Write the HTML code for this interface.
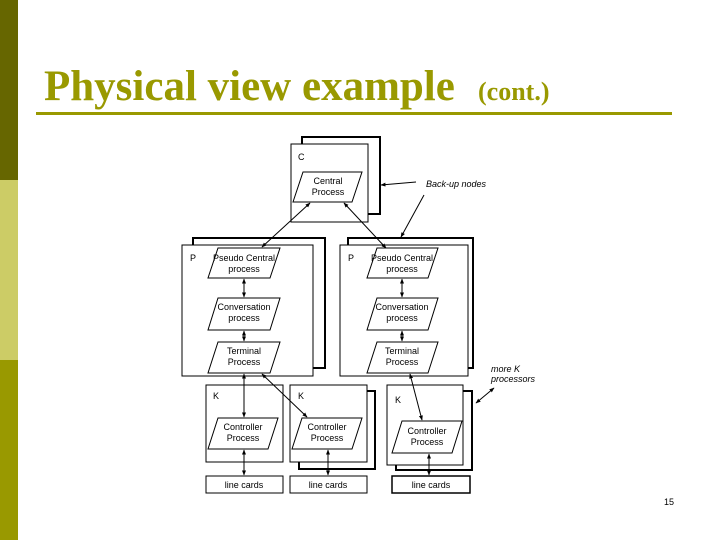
<!DOCTYPE html>
<html><head><meta charset="utf-8"><style>
body{margin:0;width:720px;height:540px;background:#fff;position:relative;overflow:hidden}
</style></head><body>
<svg width="720" height="540" viewBox="0 0 720 540" xmlns="http://www.w3.org/2000/svg" style="position:absolute;left:0;top:0">
<defs>
<marker id="a" viewBox="0 0 10 10" refX="9" refY="5" markerWidth="5" markerHeight="5" orient="auto-start-reverse"><path d="M0,1 L10,5 L0,9 z" fill="#000"/></marker>
</defs>
<rect x="0" y="0" width="18" height="180" fill="#666600"/>
<rect x="0" y="180" width="18" height="180" fill="#cccc66"/>
<rect x="0" y="360" width="18" height="180" fill="#999900"/>
<text x="44" y="100" font-family="Liberation Serif" font-weight="bold" font-size="43" fill="#999900">Physical view example</text>
<text x="478" y="100" font-family="Liberation Serif" font-weight="bold" font-size="26" fill="#999900">(cont.)</text>
<rect x="36" y="112" width="636" height="3" fill="#999900"/>
<g fill="#fff" stroke="#000" stroke-width="1">
<rect x="302" y="137" width="78" height="77" stroke-width="2"/>
<rect x="291" y="144" width="77" height="78"/>
<rect x="193" y="238" width="132" height="130" stroke-width="2"/>
<rect x="182" y="245" width="131" height="131"/>
<rect x="348" y="238" width="125" height="130" stroke-width="2"/>
<rect x="340" y="245" width="128" height="131"/>
<rect x="206" y="385" width="77" height="77"/>
<rect x="299" y="391" width="76" height="78" stroke-width="2"/>
<rect x="290" y="385" width="77" height="77"/>
<rect x="396" y="391" width="76" height="79" stroke-width="2"/>
<rect x="387" y="385" width="76" height="80"/>
<rect x="206" y="476" width="77" height="17"/>
<rect x="290" y="476" width="77" height="17"/>
<rect x="392" y="476" width="78" height="17" stroke-width="1.5"/>
<polygon points="303,172 362,172 352,202 293,202"/>
<polygon points="218,248 280,248 270,278 208,278"/>
<polygon points="218,298 280,298 270,330 208,330"/>
<polygon points="218,342 280,342 270,373 208,373"/>
<polygon points="377,248 438,248 428,278 367,278"/>
<polygon points="377,298 438,298 428,330 367,330"/>
<polygon points="377,342 438,342 428,373 367,373"/>
<polygon points="218,418 278,418 268,449 208,449"/>
<polygon points="302,418 362,418 352,449 292,449"/>
<polygon points="402,421 462,421 452,453 392,453"/>
</g>
<g font-family="Liberation Sans" font-size="9" fill="#000" text-anchor="middle">
<text x="328" y="184">Central</text><text x="328" y="195">Process</text>
<text x="244" y="261">Pseudo Central</text><text x="244" y="272">process</text>
<text x="244" y="310">Conversation</text><text x="244" y="321">process</text>
<text x="244" y="354">Terminal</text><text x="244" y="365">Process</text>
<text x="402" y="261">Pseudo Central</text><text x="402" y="272">process</text>
<text x="402" y="310">Conversation</text><text x="402" y="321">process</text>
<text x="402" y="354">Terminal</text><text x="402" y="365">Process</text>
<text x="243" y="430">Controller</text><text x="243" y="441">Process</text>
<text x="327" y="430">Controller</text><text x="327" y="441">Process</text>
<text x="427" y="434">Controller</text><text x="427" y="445">Process</text>
<text x="244" y="488">line cards</text>
<text x="328" y="488">line cards</text>
<text x="431" y="488">line cards</text>
</g>
<g font-family="Liberation Sans" font-size="9" fill="#000">
<text x="298" y="160">C</text>
<text x="190" y="261">P</text>
<text x="348" y="261">P</text>
<text x="213" y="399">K</text>
<text x="298" y="399">K</text>
<text x="395" y="403">K</text>
<text x="426" y="187" font-style="italic">Back-up nodes</text>
<text x="491" y="372" font-style="italic">more K</text>
<text x="491" y="382" font-style="italic">processors</text>
<text x="664" y="505">15</text>
</g>
<g stroke="#000" stroke-width="1" fill="none" marker-end="url(#a)" marker-start="url(#a)">
<line x1="310" y1="203" x2="262" y2="247"/>
<line x1="344" y1="203" x2="386" y2="248"/>
<line x1="244" y1="279" x2="244" y2="297"/>
<line x1="244" y1="331" x2="244" y2="341"/>
<line x1="402" y1="279" x2="402" y2="297"/>
<line x1="402" y1="331" x2="402" y2="341"/>
<line x1="244" y1="374" x2="244" y2="417"/>
<line x1="262" y1="374" x2="307" y2="417"/>
<line x1="410" y1="374" x2="422" y2="420"/>
<line x1="244" y1="450" x2="244" y2="475"/>
<line x1="328" y1="450" x2="328" y2="475"/>
<line x1="429" y1="454" x2="429" y2="475"/>
<line x1="476" y1="403" x2="494" y2="388"/>
</g>
<g stroke="#000" stroke-width="1" fill="none" marker-end="url(#a)">
<line x1="416" y1="182" x2="381" y2="185"/>
<line x1="424" y1="195" x2="401" y2="237"/>
</g>
</svg>
</body></html>
